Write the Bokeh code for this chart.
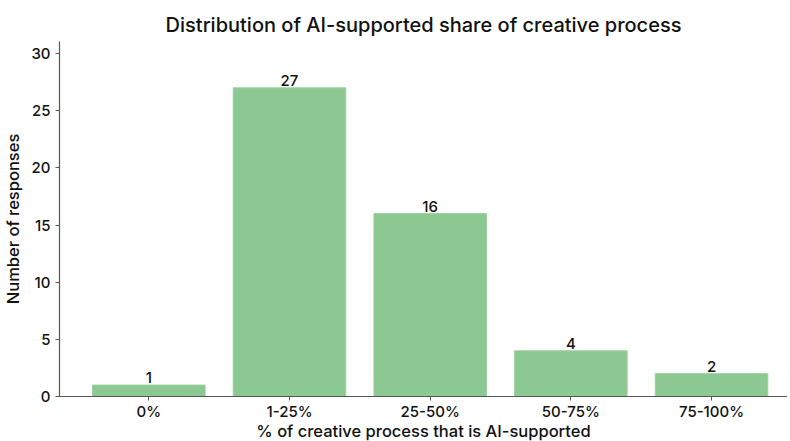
from bokeh.plotting import figure
from bokeh.models import ColumnDataSource, FixedTicker, Range1d
from bokeh.core.properties import value
from bokeh.embed import file_html
from bokeh.resources import INLINE

categories = ["0%", "1-25%", "25-50%", "50-75%", "75-100%"]
counts = [1, 27, 16, 4, 2]
y_ticks = [0, 5, 10, 15, 20, 25, 30]

FONT = "Inter Medium"
xs = list(range(len(categories)))
src = ColumnDataSource(dict(x=xs, top=counts, label=[str(c) for c in counts]))

p = figure(frame_width=728, frame_height=355, output_backend="svg", toolbar_location=None,
           x_range=Range1d(-0.635, 4.54), y_range=Range1d(0, 31.05),
           min_border_left=54, min_border_right=0, min_border_top=41, min_border_bottom=38)

p.title.text = "Distribution of AI-supported share of creative process"
p.title.align = "center"
p.title.text_font = FONT
p.title.text_font_size = "20px"
p.title.text_font_style = "normal"
p.title.text_color = "#111111"
p.title.offset = 0

p.vbar(x="x", top="top", width=0.8, bottom=0, source=src,
       fill_color="#8cc891", line_color="#9dd0a1", line_width=1)
p.text(x="x", y="top", text="label", source=src, text_align="center",
       text_baseline="bottom", y_offset=-2, text_font=value(FONT),
       text_font_size="15px", text_color="#111111")

p.xgrid.visible = False
p.ygrid.visible = False
p.outline_line_color = None

p.xaxis.ticker = FixedTicker(ticks=xs)
p.xaxis.major_label_overrides = {i: c for i, c in enumerate(categories)}
p.yaxis.ticker = FixedTicker(ticks=y_ticks)
p.xaxis.minor_tick_line_color = None
p.yaxis.minor_tick_line_color = None

for ax in (p.xaxis, p.yaxis):
    ax.axis_line_color = "#555555"
    ax.axis_line_width = 1.2
    ax.major_tick_line_color = "#555555"
    ax.major_tick_in = 0
    ax.major_tick_out = 4
    ax.major_label_text_font = FONT
    ax.major_label_text_font_size = "15px"
    ax.major_label_text_color = "#111111"
    ax.axis_label_text_font = FONT
    ax.axis_label_text_font_size = "16.5px"
    ax.axis_label_text_font_style = "normal"
    ax.axis_label_text_color = "#111111"

p.xaxis.axis_label = "% of creative process that is AI-supported"
p.yaxis.axis_label = "Number of responses"
p.xaxis.major_label_standoff = 1
p.yaxis.major_label_standoff = 5
p.xaxis.axis_label_standoff = -3
p.yaxis.axis_label_standoff = 5

open("out.html", "w").write(file_html(p, INLINE))
